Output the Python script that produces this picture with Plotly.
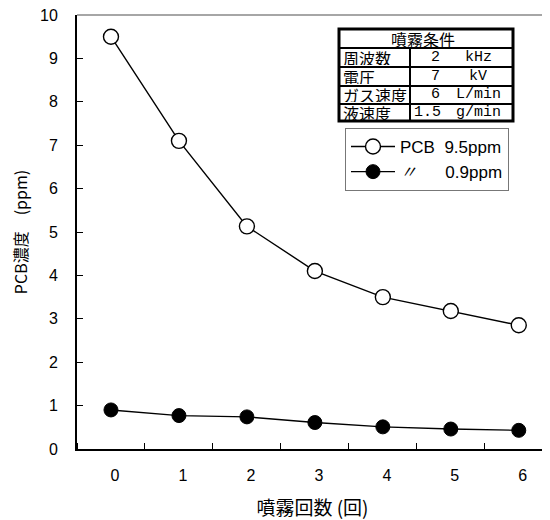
import plotly.graph_objects as go

# ---- data ----
spray_counts = [0, 1, 2, 3, 4, 5, 6]
tick_labels = ["0", "1", "2", "3", "4", "5", "6"]
pcb_high = [9.5, 7.1, 5.13, 4.1, 3.5, 3.18, 2.85]
pcb_low = [0.9, 0.77, 0.74, 0.61, 0.51, 0.46, 0.43]
name_high = "PCB\u00a0\u00a09.5ppm"
name_low = "<i>〃</i>\u00a0\u00a0\u00a0\u00a0\u00a0\u00a00.9ppm"

table_title = "噴霧条件"
table_labels = ["周波数", "電圧", "ガス速度", "液速度"]
table_values = ["2", "7", "6", "1.5"]
table_units = ["kHz", "kV", "L/min", "g/min"]

# ---- layout geometry (window pixels; page body has an 8px margin) ----
OFF = 8
W, H = 550 - OFF, 520 - OFF
L, R, T, B = 77, 548, 15, 449  # plot area in window pixels


def px(x):
    return (x - L) / (R - L)


def py(y):
    return (B - y) / (B - T)


BASE = "Liberation Sans, Arial, Noto Sans CJK JP, sans-serif"
CJK = "Noto Sans CJK JP, sans-serif"
MONO = "Liberation Mono, DejaVu Sans Mono, monospace"

fig = go.Figure()
fig.add_trace(go.Scatter(
    x=spray_counts, y=pcb_high, mode="lines+markers", name=name_high,
    line=dict(color="black", width=1.4),
    marker=dict(symbol="circle", size=15, color="white",
                line=dict(color="black", width=1.4)),
))
fig.add_trace(go.Scatter(
    x=spray_counts, y=pcb_low, mode="lines+markers", name=name_low,
    line=dict(color="black", width=1.4),
    marker=dict(symbol="circle", size=14, color="black",
                line=dict(color="black", width=1)),
))

shapes = []
annotations = []

# top border (grey)
shapes.append(dict(type="line", xref="paper", yref="paper", x0=0, x1=1, y0=1, y1=1,
                   line=dict(color="#888888", width=1.5)))

# conditions table
tx0, tx1, tcol = 339, 513, 410
rows = [29, 48, 67, 86, 104, 121]
shapes.append(dict(type="rect", xref="paper", yref="paper",
                   x0=px(tx0), x1=px(tx1), y0=py(rows[-1]), y1=py(rows[0]),
                   line=dict(color="black", width=3), fillcolor="white"))
for r in rows[1:-1]:
    shapes.append(dict(type="line", xref="paper", yref="paper",
                       x0=px(tx0), x1=px(tx1), y0=py(r), y1=py(r),
                       line=dict(color="black", width=2)))
shapes.append(dict(type="line", xref="paper", yref="paper",
                   x0=px(tcol), x1=px(tcol), y0=py(rows[-1]), y1=py(rows[1]),
                   line=dict(color="black", width=2)))

annotations.append(dict(xref="paper", yref="paper", x=px(423),
                        y=py((rows[0] + rows[1]) / 2), text=table_title,
                        showarrow=False, xanchor="center", yanchor="middle",
                        font=dict(family=CJK, size=16, color="black"),
                        height=16, valign="middle"))
for i, (lab, val, unit) in enumerate(zip(table_labels, table_values, table_units)):
    yc = py((rows[i + 1] + rows[i + 2]) / 2)
    annotations.append(dict(xref="paper", yref="paper", x=px(tx0 + 2), y=yc, text=lab,
                            showarrow=False, xanchor="left", yanchor="middle",
                            font=dict(family=CJK, size=16, color="black"),
                            height=15, valign="middle"))
    annotations.append(dict(xref="paper", yref="paper", x=px(435 if val != "1.5" else 427),
                            y=yc, text=val,
                            showarrow=False, xanchor="center", yanchor="middle",
                            font=dict(family=MONO, size=15, color="black"),
                            height=15, valign="middle"))
    annotations.append(dict(xref="paper", yref="paper", x=px(478), y=yc, text=unit,
                            showarrow=False, xanchor="center", yanchor="middle",
                            font=dict(family=MONO, size=15, color="black"),
                            height=15, valign="middle"))

fig.update_layout(
    width=W, height=H,
    margin=dict(l=L - OFF, r=550 - R, t=T - OFF, b=520 - B, pad=0, autoexpand=False),
    paper_bgcolor="white", plot_bgcolor="white",
    font=dict(family=BASE, size=16, color="black"),
    showlegend=True,
    legend=dict(x=px(345), y=py(128), xanchor="left", yanchor="top",
                bgcolor="white", bordercolor="#777777", borderwidth=1,
                font=dict(family=BASE, size=17, color="black"),
                tracegroupgap=0, itemwidth=44),
    shapes=shapes,
    annotations=annotations,
    xaxis=dict(
        range=[-0.5, 6.43], tickmode="array", tickvals=spray_counts, ticktext=tick_labels,
        ticks="", showgrid=False, zeroline=False, automargin=False,
        showline=True, linecolor="black", linewidth=2,
        ticklabelstandoff=11, ticklabelshift=4,
        tickfont=dict(family=BASE, size=16),
        minor=dict(tick0=0.5, dtick=1, ticks="inside", ticklen=6, tickcolor="black",
                   tickwidth=1, showgrid=False),
        title=dict(text="噴霧回数 (回)", font=dict(family=CJK, size=19), standoff=18),
    ),
    yaxis=dict(
        range=[0, 10], tickmode="array", tickvals=list(range(0, 11)),
        ticks="inside", ticklen=6, tickcolor="black", tickwidth=1,
        showgrid=False, zeroline=False, automargin=False,
        showline=True, linecolor="black", linewidth=2,
        ticklabelstandoff=14, ticklabeloverflow="allow",
        tickfont=dict(family=BASE, size=16),
        title=dict(text="PCB濃度　(ppm)", font=dict(family=CJK, size=16), standoff=14),
    ),
)

fig.write_html("out.html")
